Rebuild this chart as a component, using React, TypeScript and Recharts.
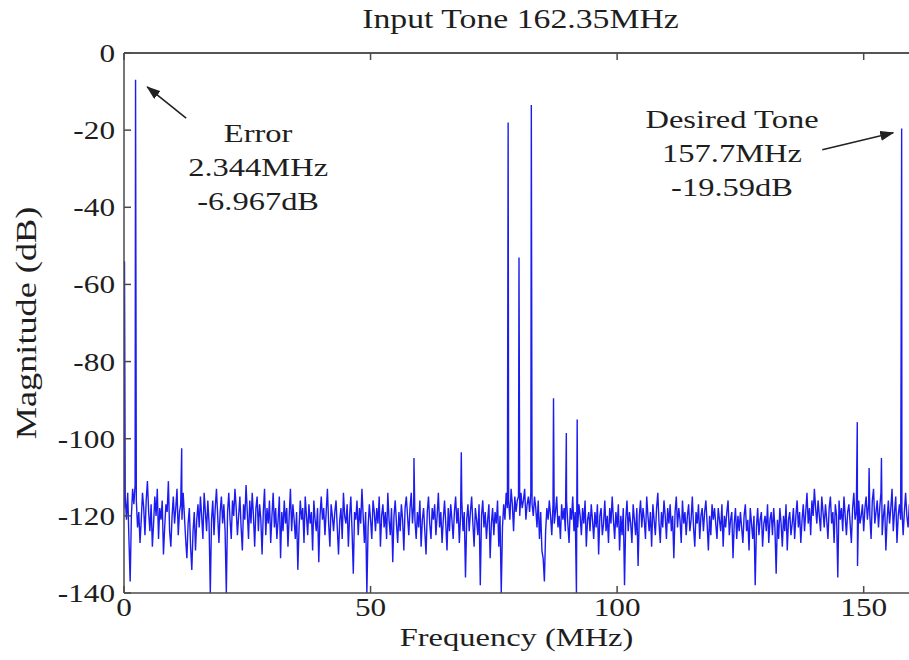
import { LineChart, Line, XAxis, YAxis, ReferenceLine, ReferenceDot } from "recharts";

// FFT bin spacing of the noise floor, MHz
const FREQ_STEP = 0.25;

// noise floor in dB, one value per bin
const floor0to40 = [
  -118, -115, -121, -114, -126, -137, -120, -113, -117, -112,
  -116, -123, -119, -127, -121, -114, -118, -125, -116, -111,
  -119, -124, -117, -128, -122, -115, -120, -113, -126, -118,
  -121, -116, -130, -123, -117, -119, -111, -124, -128, -120,
  -115, -122, -118, -113, -125, -119, -117, -121, -114, -120,
  -126, -131, -122, -118, -128, -134, -124, -119, -129, -121,
  -117, -123, -115, -120, -126, -114, -119, -124, -116, -122,
  -140, -121, -116, -125, -118, -113, -120, -127, -119, -115,
  -122, -117, -124, -140, -119, -114, -121, -126, -116, -120,
  -113, -118, -125, -120, -115, -123, -129, -117, -121, -112,
  -119, -126, -116, -122, -114, -120, -128, -118, -115, -124,
  -117, -121, -130, -119, -113, -125, -118, -122, -116, -127,
  -120, -114, -123, -118, -126, -121, -115, -131, -119, -124,
  -116, -122, -118, -128, -120, -113, -124, -117, -121, -126,
  -119, -134, -123, -116, -121, -118, -127, -115, -120, -125,
  -117, -122, -119, -129, -116, -121, -124, -118, -132, -120,
];

const floor40to80 = [
  -115, -121, -118, -125, -119, -113, -122, -128, -117, -120,
  -124, -119, -116, -123, -130, -121, -118, -126, -114, -120,
  -122, -117, -128, -120, -115, -124, -135, -119, -121, -116,
  -125, -118, -122, -113, -120, -127, -119, -140, -123, -117,
  -121, -126, -116, -119, -124, -118, -122, -115, -128, -120,
  -117, -123, -119, -126, -114, -121, -125, -118, -132, -120,
  -116, -122, -127, -119, -124, -117, -121, -129, -118, -115,
  -120, -125, -118, -114, -122, -117, -121, -126, -119, -123,
  -116, -128, -121, -118, -124, -130, -119, -115, -122, -126,
  -118, -121, -117, -125, -120, -114, -123, -119, -127, -121,
  -116, -122, -129, -118, -124, -117, -121, -126, -119, -115,
  -122, -118, -127, -120, -116, -124, -119, -136, -121, -117,
  -124, -119, -115, -122, -128, -118, -121, -125, -117, -138,
  -120, -116, -123, -119, -126, -121, -117, -131, -122, -118,
  -125, -119, -122, -116, -128, -120, -140, -123, -117, -121,
  -114, -118, -116, -121, -113, -117, -124, -115, -119, -116,
];

const floor80to120 = [
  -115, -120, -114, -118, -116, -113, -121, -117, -115, -119,
  -114, -117, -120, -115, -118, -123, -116, -126, -119, -129,
  -131, -137, -124, -118, -121, -116, -120, -125, -117, -122,
  -119, -115, -123, -120, -126, -117, -121, -118, -124, -116,
  -122, -127, -118, -121, -115, -124, -119, -140, -123, -117,
  -120, -125, -118, -122, -116, -128, -121, -119, -124, -117,
  -121, -126, -119, -123, -117, -130, -120, -118, -125, -122,
  -116, -124, -120, -127, -118, -122, -115, -121, -126, -119,
  -123, -117, -129, -120, -125, -118, -138, -121, -116, -124,
  -119, -122, -127, -117, -121, -125, -118, -133, -120, -116,
  -123, -118, -121, -126, -115, -120, -124, -119, -128, -117,
  -121, -125, -118, -114, -122, -127, -119, -123, -116, -120,
  -126, -118, -122, -117, -124, -120, -131, -119, -115, -123,
  -118, -121, -127, -116, -122, -119, -125, -120, -117, -124,
  -121, -115, -123, -128, -119, -122, -117, -126, -120, -118,
  -124, -119, -116, -122, -129, -120, -125, -117, -121, -118,
];

const floor120to160 = [
  -122, -126, -118, -121, -124, -117, -128, -120, -123, -119,
  -116, -125, -121, -119, -131, -122, -118, -126, -120, -124,
  -119, -123, -127, -120, -117, -124, -121, -129, -118, -122,
  -126, -120, -138, -123, -118, -125, -121, -119, -128, -122,
  -120, -124, -117, -127, -121, -119, -125, -118, -123, -135,
  -121, -126, -118, -122, -128, -120, -124, -117, -129, -121,
  -119, -125, -122, -118, -126, -120, -116, -123, -119, -127,
  -121, -117, -124, -119, -114, -122, -118, -125, -116, -120,
  -113, -118, -122, -116, -120, -124, -115, -119, -123, -117,
  -121, -126, -118, -115, -122, -119, -127, -117, -120, -136,
  -116, -121, -118, -124, -115, -120, -125, -119, -117, -122,
  -127, -118, -114, -121, -119, -133, -116, -122, -120, -117,
  -124, -118, -115, -121, -117, -120, -126, -116, -113, -122,
  -119, -116, -123, -118, -114, -125, -120, -117, -129, -121,
  -116, -122, -118, -113, -124, -119, -115, -127, -120, -117,
  -121, -118, -125, -119, -114, -120, -123, -117, -122, -119,
];

// discrete tones and spurs: frequency (MHz) and level (dB)
const toneFreqs = [0.1, 2.344, 11.7, 58.8, 68.4, 77.9, 80.1, 82.6, 87.1, 89.7, 91.9, 148.7, 151.1, 153.6, 157.7];
const toneLevels = [-54, -6.967, -102.5, -105, -103.5, -18, -53, -13.5, -89.5, -98.5, -95, -95.7, -107.6, -105, -19.59];

const xTicks = [0, 50, 100, 150];
const yTicks = [-140, -120, -100, -80, -60, -40, -20, 0];
const X_MAX = 160;

const FONT = "'Liberation Serif', 'Times New Roman', serif";
const TEXT_COLOR = "#1e1e1e";
const AXIS_COLOR = "#4a4a4a";
const AXIS_WIDTH = 1.5;
const STRETCH = 1.25;

// chart box
const CHART_W = 914;
const CHART_H = 660;
const MARGIN = { top: 53, right: 1, bottom: 17, left: 64 };
const Y_AXIS_W = 60;
const PLOT_LEFT = MARGIN.left + Y_AXIS_W;
const PLOT_W = CHART_W - PLOT_LEFT - MARGIN.right;

function buildSpectrum() {
  const floor = [...floor0to40, ...floor40to80, ...floor80to120, ...floor120to160];
  const pts = floor.map((db, i) => ({ f: i * FREQ_STEP, db }));
  toneFreqs.forEach((f, i) => pts.push({ f, db: toneLevels[i] }));
  return pts.sort((a, b) => a.f - b.f);
}

const spectrum = buildSpectrum();

function WideText({ x, y, children, anchor = "middle", size = 26 }: any) {
  return (
    <g transform={`translate(${x},${y}) scale(${STRETCH},1)`}>
      <text x={0} y={0} textAnchor={anchor} fontFamily={FONT} fontSize={size} fill={TEXT_COLOR}>
        {children}
      </text>
    </g>
  );
}

function XTick({ x, y, payload }: any) {
  return (
    <WideText x={x} y={y + 23} size={25}>
      {payload.value}
    </WideText>
  );
}

function YTick({ x, y, payload }: any) {
  return (
    <WideText x={x - 9} y={y + 9} anchor="end" size={25}>
      {payload.value}
    </WideText>
  );
}

function Note({ cx, cy, lines }: any) {
  return (
    <g>
      {lines.map((t: string, i: number) => (
        <WideText key={i} x={cx} y={cy + i * 34}>
          {t}
        </WideText>
      ))}
    </g>
  );
}

// top edge of the axes box with its inward ticks
function TopFrame() {
  const y = MARGIN.top;
  return (
    <svg
      width={CHART_W}
      height={CHART_H}
      style={{ position: "absolute", left: 0, top: 0, pointerEvents: "none" }}
    >
      <g stroke={AXIS_COLOR} strokeWidth={AXIS_WIDTH}>
        <line x1={PLOT_LEFT} y1={y} x2={PLOT_LEFT + PLOT_W} y2={y} />
        {xTicks.map((t) => {
          const x = PLOT_LEFT + (t / X_MAX) * PLOT_W;
          return <line key={t} x1={x} y1={y} x2={x} y2={y + 7} />;
        })}
      </g>
    </svg>
  );
}

export default function App() {
  return (
    <div style={{ position: "absolute", left: 0, top: 0, width: 909, height: 660, overflow: "hidden", background: "#fff" }}>
      <svg width={0} height={0} style={{ position: "absolute" }}>
        <defs>
          <marker id="arrowHead" markerUnits="userSpaceOnUse" markerWidth={14} markerHeight={10} refX={13} refY={5} orient="auto">
            <path d="M0,0 L14,5 L0,10 Z" fill="#222" />
          </marker>
        </defs>
      </svg>
      <LineChart width={CHART_W} height={CHART_H} data={spectrum} margin={MARGIN}>
        <XAxis
          type="number"
          dataKey="f"
          domain={[0, X_MAX]}
          ticks={xTicks}
          height={50}
          tick={<XTick />}
          tickSize={-7}
          tickMargin={7}
          stroke={AXIS_COLOR}
          strokeWidth={AXIS_WIDTH}
          allowDataOverflow
          label={{
            content: ({ viewBox }: any) => (
              <WideText x={viewBox.x + viewBox.width / 2 - 2} y={viewBox.y + 53}>
                Frequency (MHz)
              </WideText>
            ),
          }}
        />
        <YAxis
          type="number"
          domain={[-140, 0]}
          ticks={yTicks}
          width={Y_AXIS_W}
          tick={<YTick />}
          tickSize={-7}
          tickMargin={7}
          stroke={AXIS_COLOR}
          strokeWidth={AXIS_WIDTH}
          allowDataOverflow
          label={{
            content: ({ viewBox }: any) => (
              <text
                transform={`translate(${viewBox.x - 28},${viewBox.y + viewBox.height / 2}) rotate(-90) scale(${STRETCH},1)`}
                textAnchor="middle"
                fontFamily={FONT}
                fontSize={29}
                fill={TEXT_COLOR}
              >
                Magnitude (dB)
              </text>
            ),
          }}
        />
        <ReferenceLine y={0} stroke={AXIS_COLOR} strokeWidth={AXIS_WIDTH} ifOverflow="extendDomain" />
        <Line
          type="linear"
          dataKey="db"
          stroke="#1c1cf0"
          strokeWidth={1.4}
          dot={false}
          isAnimationActive={false}
        />
        <ReferenceLine
          segment={[{ x: 12.6, y: -16.9 }, { x: 4.7, y: -8.8 }]}
          stroke="#222"
          strokeWidth={1.6}
          markerEnd="url(#arrowHead)"
          ifOverflow="visible"
        />
        <ReferenceLine
          segment={[{ x: 141.6, y: -25.1 }, { x: 156.0, y: -20.7 }]}
          stroke="#222"
          strokeWidth={1.6}
          markerEnd="url(#arrowHead)"
          ifOverflow="visible"
        />
        <ReferenceDot
          x={80}
          y={0}
          r={0}
          ifOverflow="visible"
          shape={(p: any) => (
            <WideText x={p.cx + 2} y={p.cy - 25} size={27}>
              Input Tone 162.35MHz
            </WideText>
          )}
        />
        <ReferenceDot
          x={27.2}
          y={-23}
          r={0}
          ifOverflow="visible"
          shape={(p: any) => <Note cx={p.cx} cy={p.cy} lines={["Error", "2.344MHz", "-6.967dB"]} />}
        />
        <ReferenceDot
          x={123.3}
          y={-19.4}
          r={0}
          ifOverflow="visible"
          shape={(p: any) => <Note cx={p.cx} cy={p.cy} lines={["Desired Tone", "157.7MHz", "-19.59dB"]} />}
        />
      </LineChart>
      <TopFrame />
    </div>
  );
}
